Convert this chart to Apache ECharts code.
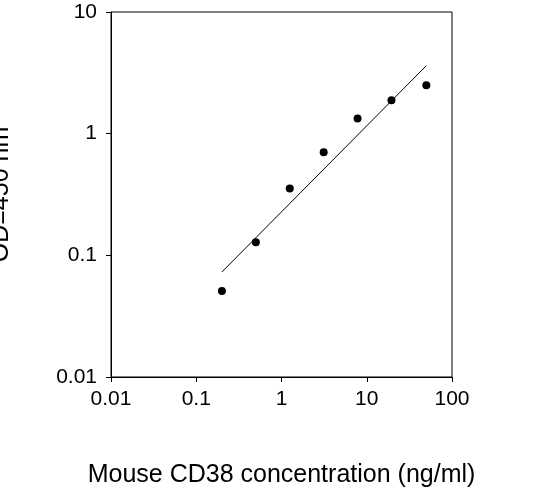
<!DOCTYPE html>
<html>
<head>
<meta charset="utf-8">
<script src="https://cdn.jsdelivr.net/npm/echarts@6/dist/echarts.min.js"></script>
</head>
<body style="margin:0">
<div id="main" style="width:534px;height:495px;"></div>
<script>
var conc = [0.2, 0.5, 1.25, 3.125, 7.8, 19.5, 50];
var od = [0.051, 0.128, 0.355, 0.705, 1.33, 1.88, 2.5];
var fitX = [0.2, 50];
var fitY = [0.073, 3.62];

var chart = echarts.init(document.getElementById('main'));
var txt = { color: '#000', fontFamily: 'Arial, Liberation Sans', fontSize: 21 };
chart.setOption({
  animation: false,
  grid: { left: 111, right: 82, top: 12, bottom: 118, outerBoundsMode: 'none', containLabel: false,
    show: true, borderColor: '#000', borderWidth: 1 },
  xAxis: {
    type: 'log', min: 0.01, max: 100, logBase: 10,
    name: 'Mouse CD38 concentration (ng/ml)', nameLocation: 'middle', nameGap: 86,
    nameTextStyle: Object.assign({}, txt, { fontSize: 25 }),
    axisLine: { lineStyle: { color: '#000' } },
    axisTick: { lineStyle: { color: '#000' }, length: 5 },
    axisLabel: Object.assign({}, txt, { margin: 12, formatter: function (v) { return String(+v.toPrecision(3)); } }),
    splitLine: { show: false }, minorTick: { show: false }
  },
  yAxis: {
    type: 'log', min: 0.01, max: 10, logBase: 10,
    name: 'OD=450 nm', nameLocation: 'middle', nameGap: 97, nameRotate: 90,
    nameTextStyle: Object.assign({}, txt, { fontSize: 25 }),
    axisLine: { lineStyle: { color: '#000' } },
    axisTick: { lineStyle: { color: '#000' }, length: 5 },
    axisLabel: Object.assign({}, txt, { margin: 14, formatter: function (v) { return String(+v.toPrecision(3)); } }),
    splitLine: { show: false }
  },
  series: [
    { type: 'line', data: fitX.map(function (x, i) { return [x, fitY[i]]; }), symbol: 'none',
      lineStyle: { color: '#000', width: 1 } },
    { type: 'scatter', data: conc.map(function (x, i) { return [x, od[i]]; }), symbolSize: 8,
      itemStyle: { color: '#000', opacity: 1 } }
  ]
});
</script>
</body>
</html>
